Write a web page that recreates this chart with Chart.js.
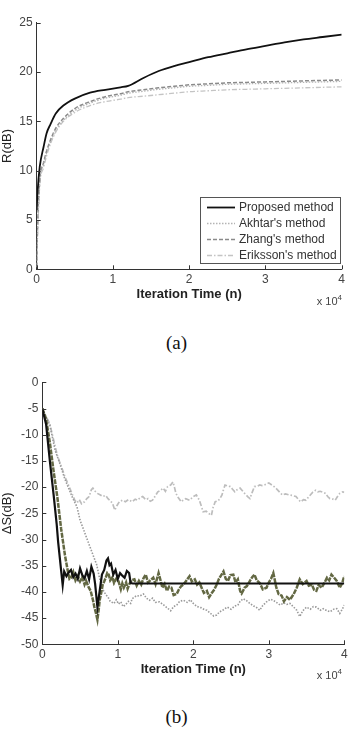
<!DOCTYPE html>
<html>
<head>
<meta charset="utf-8">
<script src="https://cdn.jsdelivr.net/npm/chart.js@4.4.1/dist/chart.umd.min.js"></script>
<style>
  html, body { margin: 0; padding: 0; background: #fff; }
  body { width: 353px; height: 732px; position: relative; overflow: hidden; font-family: "Liberation Sans", Arial, sans-serif; }
  canvas { position: absolute; left: 0; }
  .exp { position: absolute; right: 11px; font-size: 11px; line-height: 12px; color: #444; }
  .exp sup { font-size: 8px; vertical-align: 5px; line-height: 0; }
  .cap { position: absolute; width: 353px; left: 0; text-align: center; font-family: "Liberation Serif", "Times New Roman", serif; font-size: 19px; line-height: 20px; color: #111; }
</style>
</head>
<body>
<canvas id="chartA" width="353" height="320" style="top:0px"></canvas>
<div class="exp" style="top:295px">x 10<sup>4</sup></div>
<div class="cap" style="top:333px">(a)</div>
<canvas id="chartB" width="353" height="350" style="top:340px"></canvas>
<div class="exp" style="top:669px">x 10<sup>4</sup></div>
<div class="cap" style="top:707px">(b)</div>
<script>
// ---------- DATA (x in units of 10^4 iterations) ----------
const seriesNames = ["Proposed method", "Akhtar's method", "Zhang's method", "Eriksson's method"];

// Chart (a): R(dB)
const iterA = [0, 0.01, 0.04, 0.09, 0.13, 0.18, 0.25, 0.35, 0.5, 0.7, 0.9, 1.1, 1.2, 1.4, 1.6, 1.8, 2.0, 2.25, 2.5, 2.75, 3.0, 3.25, 3.5, 3.75, 4.0];
const proposedA = [6.0, 7.7, 10.4, 12.4, 13.8, 14.7, 15.8, 16.6, 17.3, 17.9, 18.2, 18.45, 18.6, 19.4, 20.1, 20.6, 21.0, 21.5, 21.9, 22.3, 22.65, 23.0, 23.3, 23.55, 23.8];
const akhtarA   = [0.2, 3.5, 8.8, 10.6, 11.8, 12.9, 14.1, 15.1, 16.1, 16.85, 17.35, 17.65, 17.85, 18.05, 18.25, 18.4, 18.55, 18.65, 18.75, 18.8, 18.85, 18.9, 18.95, 19.0, 19.05];
const zhangA    = [0.3, 4.0, 9.0, 10.8, 12.0, 13.1, 14.3, 15.3, 16.3, 17.0, 17.5, 17.8, 18.0, 18.2, 18.4, 18.55, 18.7, 18.8, 18.9, 18.95, 19.0, 19.05, 19.1, 19.15, 19.2];
const erikssonA = [0.2, 3.0, 8.5, 10.3, 11.5, 12.7, 13.9, 15.0, 15.9, 16.6, 17.0, 17.25, 17.4, 17.55, 17.7, 17.85, 18.0, 18.1, 18.2, 18.25, 18.3, 18.35, 18.4, 18.45, 18.5];
const ticksA_y = [0, 5, 10, 15, 20, 25];

// Chart (b): ΔS(dB)
const iterProposedB = [0, 0.05, 0.1, 0.15, 0.19, 0.21, 0.25, 0.27, 0.29, 0.32,
  0.35, 0.38, 0.41, 0.44, 0.47, 0.5, 0.53, 0.56, 0.59, 0.62,
  0.65, 0.68, 0.7, 0.73, 0.76, 0.79, 0.82, 0.85, 0.87, 0.89,
  0.91, 0.94, 0.97, 1.0, 1.03, 1.06, 1.09, 1.12, 1.15, 1.17,
  1.2, 4.0];
const proposedB = [-5, -8, -15, -21.5, -27, -30.5, -36, -38.7, -36.1, -37,
  -36.3, -35.8, -37.2, -36.5, -37.5, -35.5, -36.8, -37.4, -36, -37.6,
  -35.2, -36.5, -38.5, -42.9, -39.8, -36.7, -35.8, -34, -33.6, -34.9,
  -34.6, -36.7, -35.8, -37.5, -36.4, -36.9, -37.3, -36, -36.4, -38.3,
  -38.4, -38.4];

const iterAkhtarB = [0, 0.05, 0.1, 0.15, 0.2, 0.25, 0.3, 0.34, 0.36, 0.38,
  0.41, 0.44, 0.47, 0.5, 0.53, 0.56, 0.58, 0.61, 0.64, 0.67,
  0.69, 0.71, 0.73, 0.75, 0.76, 0.78, 0.8, 0.82, 0.84, 0.86,
  0.88, 0.9, 0.93, 0.95, 0.98, 1.01, 1.04, 1.06, 1.08, 1.11,
  1.13, 1.15, 1.18, 1.22, 1.25, 1.28, 1.31, 1.34, 1.37, 1.4,
  1.43, 1.47, 1.5, 1.54, 1.57, 1.59, 1.62, 1.65, 1.68, 1.71,
  1.74, 1.78, 1.81, 1.84, 1.87, 1.9, 1.93, 1.95, 1.98, 2.02,
  2.05, 2.08, 2.11, 2.14, 2.18, 2.21, 2.25, 2.28, 2.31, 2.34,
  2.37, 2.4, 2.43, 2.46, 2.49, 2.53, 2.56, 2.59, 2.62, 2.64,
  2.68, 2.71, 2.75, 2.78, 2.81, 2.84, 2.88, 2.92, 2.97, 3.0,
  3.03, 3.06, 3.08, 3.1, 3.13, 3.17, 3.2, 3.24, 3.28, 3.33,
  3.37, 3.41, 3.45, 3.5, 3.53, 3.57, 3.6, 3.63, 3.66, 3.7,
  3.74, 3.77, 3.8, 3.83, 3.86, 3.9, 3.94, 3.97, 4.0];
const akhtarB = [-5, -7, -11.5, -17, -22, -28, -33, -36.2, -37.5, -37.3,
  -36.2, -37.8, -37, -38, -37.2, -38.6, -37.9, -39, -39.8, -41.5,
  -42.9, -44, -45.3, -43, -41.6, -40.2, -38.6, -38, -37.3, -36.4,
  -36.7, -37.8, -37.2, -38.3, -37.5, -38, -39.5, -38.4, -39.2, -38.2,
  -39.4, -38.6, -37.8, -37.6, -38.8, -37.9, -38.6, -37.4, -36.7, -38.2,
  -37.8, -37.3, -38.5, -36.4, -38, -39.2, -38.5, -39.8, -39, -39.2,
  -40.6, -40.4, -39.5, -38.9, -38.6, -38, -37.4, -37, -38, -37.6,
  -38.6, -38.2, -39.2, -40.2, -39.8, -41, -40.1, -39.5, -38.6, -37.5,
  -36.8, -36.1, -37.5, -37.9, -36.8, -36.7, -38.2, -37.6, -39.8, -40.3,
  -39.2, -38.9, -37.9, -37.2, -36.7, -37.8, -38.3, -39.5, -39.2, -38.2,
  -37.5, -36.4, -37.8, -39.2, -40.4, -40.7, -41.8, -41, -41.5, -40.4,
  -39.2, -37.6, -38.5, -37.9, -38.8, -38.6, -39.6, -39.8, -38.7, -39.2,
  -38.2, -37.3, -37.8, -36.7, -37.2, -37.9, -39.2, -38.4, -37];

const iterZhangB = [0, 0.1, 0.17, 0.22, 0.3, 0.4, 0.46, 0.5, 0.59, 0.66,
  0.72, 0.76, 0.8, 0.84, 0.87, 0.9, 0.95, 0.98, 1.01, 1.04,
  1.07, 1.1, 1.14, 1.17, 1.19, 1.22, 1.25, 1.29, 1.34, 1.38,
  1.42, 1.46, 1.5, 1.55, 1.6, 1.65, 1.7, 1.74, 1.78, 1.82,
  1.87, 1.92, 1.96, 2.0, 2.05, 2.1, 2.15, 2.18, 2.22, 2.27,
  2.31, 2.35, 2.4, 2.45, 2.5, 2.55, 2.59, 2.62, 2.66, 2.7,
  2.75, 2.8, 2.84, 2.88, 2.92, 2.97, 3.02, 3.06, 3.1, 3.15,
  3.2, 3.24, 3.28, 3.33, 3.37, 3.41, 3.45, 3.5, 3.55, 3.59,
  3.63, 3.68, 3.72, 3.77, 3.81, 3.86, 3.9, 3.94, 3.97, 4.0];
const zhangB = [-5, -8.2, -13, -15, -18.5, -22, -23.8, -26.3, -29.8, -32.5,
  -34.8, -37.5, -39.5, -40.5, -41, -41.8, -42.2, -41.5, -42.3, -41.9,
  -42.8, -42.5, -41.8, -42.2, -41.3, -41, -40.7, -40.8, -40.4, -41.2,
  -41.6, -41.2, -42, -41.9, -42.4, -43, -43.6, -42.8, -42.5, -41.8,
  -41.6, -42, -41.5, -42.2, -42.8, -43, -43.4, -43.5, -44, -44.6,
  -44.4, -43.8, -43.4, -42.9, -43.3, -42.7, -42.5, -41.8, -41.3, -41.6,
  -42.2, -42.7, -43, -43.5, -42.6, -41.9, -41.4, -41.6, -42, -42.5,
  -42.1, -42.4, -42.2, -42.9, -43.5, -44.7, -43.6, -42.9, -43.3, -42.8,
  -42.9, -43.5, -43.2, -43.6, -43.8, -43.3, -43.2, -44.1, -43.4, -42.5];

const iterErikssonB = [0, 0.1, 0.2, 0.3, 0.43, 0.46, 0.49, 0.52, 0.56, 0.59,
  0.62, 0.65, 0.67, 0.7, 0.73, 0.77, 0.8, 0.84, 0.87, 0.9,
  0.93, 0.96, 0.99, 1.02, 1.06, 1.1, 1.14, 1.19, 1.23, 1.26,
  1.3, 1.33, 1.37, 1.4, 1.43, 1.46, 1.5, 1.53, 1.57, 1.6,
  1.63, 1.66, 1.7, 1.73, 1.75, 1.77, 1.8, 1.84, 1.87, 1.9,
  1.95, 2.0, 2.04, 2.08, 2.11, 2.13, 2.17, 2.2, 2.24, 2.26,
  2.29, 2.33, 2.36, 2.38, 2.4, 2.42, 2.46, 2.49, 2.52, 2.55,
  2.58, 2.62, 2.65, 2.68, 2.72, 2.75, 2.78, 2.81, 2.85, 2.88,
  2.91, 2.94, 2.97, 3.0, 3.04, 3.07, 3.1, 3.14, 3.18, 3.22,
  3.27, 3.31, 3.36, 3.39, 3.42, 3.46, 3.49, 3.52, 3.55, 3.58,
  3.62, 3.65, 3.68, 3.72, 3.75, 3.78, 3.81, 3.85, 3.88, 3.91,
  3.94, 3.98, 4.0];
const erikssonB = [-5, -8, -14, -18, -22.5, -23, -22.4, -23.2, -22.8, -22.2,
  -21.8, -20.5, -20.2, -20.8, -21.2, -21.5, -21.8, -21.6, -22.2, -22.6,
  -23.1, -24.4, -23.5, -22.8, -22.5, -22.8, -22.4, -22.8, -22.3, -22.5,
  -22, -21.8, -22.4, -22.2, -22.7, -22.5, -21.6, -20.9, -20.6, -20.2,
  -20.8, -19.9, -19.6, -19, -20, -21.2, -22, -22.8, -22.4, -22.2,
  -22.5, -21.8, -21.5, -22.5, -23.8, -24.7, -24.6, -25, -25.4, -24,
  -22.8, -22.6, -22, -21.5, -20.5, -19.6, -19.8, -19.9, -20.4, -20.9,
  -20.5, -20.2, -20.7, -21.2, -21.8, -22.2, -21, -19.9, -19.8, -19.6,
  -19.7, -19.6, -19.4, -19.2, -19.6, -19.9, -20.3, -20.9, -21.5, -21.3,
  -21.5, -21.6, -21.8, -22.3, -22.8, -22.4, -22.5, -22, -21.5, -21,
  -20.6, -20.9, -20.8, -21, -21.2, -21.8, -22.2, -22.3, -22.5, -21.8,
  -21.2, -20.9, -21];
const ticksB_y = [-50, -45, -40, -35, -30, -25, -20, -15, -10, -5, 0];
const ticksX = [0, 1, 2, 3, 4];

// ---------- helpers ----------
const zip = (xs, ys) => xs.slice(0, Math.min(xs.length, ys.length)).map((x, i) => ({ x, y: ys[i] }));
const FONT = '"Liberation Sans", Arial, sans-serif';

const axisPlugin = {
  id: 'matlabAxes',
  afterDraw(chart, args, opts) {
    const { ctx, chartArea: a, scales: { x, y } } = chart;
    ctx.save();
    ctx.strokeStyle = '#333';
    ctx.lineWidth = 1;
    ctx.setLineDash([]);
    ctx.beginPath();
    x.ticks.forEach(t => {
      const px = Math.round(x.getPixelForValue(t.value)) + 0.5;
      ctx.moveTo(px, a.bottom); ctx.lineTo(px, a.bottom - 4);
    });
    y.ticks.forEach(t => {
      const py = Math.round(y.getPixelForValue(t.value)) + 0.5;
      ctx.moveTo(a.left, py); ctx.lineTo(a.left + 4, py);
    });
    ctx.stroke();
    const b = opts.box;
    ctx.fillStyle = '#fff';
    ctx.fillRect(b.l, b.t, b.r - b.l, b.b - b.t);
    ctx.strokeStyle = '#555';
    ctx.strokeRect(b.l + 0.5, b.t + 0.5, b.r - b.l, b.b - b.t);
    chart.data.datasets.forEach((ds, i) => {
      const yy = Math.round(b.t + b.first + i * b.step) + 0.5;
      ctx.setLineDash(ds.borderDash || []);
      ctx.strokeStyle = ds.borderColor;
      ctx.lineWidth = Math.min(ds.borderWidth, 2);
      ctx.beginPath(); ctx.moveTo(b.l + 7, yy); ctx.lineTo(b.l + 35, yy); ctx.stroke();
      ctx.setLineDash([]);
      ctx.fillStyle = '#333';
      ctx.font = '12px ' + FONT;
      ctx.textBaseline = 'middle';
      ctx.textAlign = 'left';
      ctx.fillText(ds.label, b.l + 39, yy);
    });
    ctx.restore();
  }
};

function makeChart(id, datasets, cfg) {
  return new Chart(document.getElementById(id), {
    type: 'line',
    data: { datasets },
    plugins: [axisPlugin],
    options: {
      responsive: false,
      animation: false,
      devicePixelRatio: 1,
      layout: { padding: { top: cfg.padTop, right: cfg.padRight, left: 0, bottom: 0 } },
      elements: { point: { radius: 0 }, line: { tension: 0 } },
      plugins: { legend: { display: false }, tooltip: { enabled: false }, matlabAxes: { box: cfg.box } },
      scales: {
        x: {
          type: 'linear', min: 0, max: 4,
          afterBuildTicks: s => { s.ticks = ticksX.map(v => ({ value: v })); },
          afterFit: s => { s.height = cfg.xHeight; },
          grid: { display: false, drawTicks: false },
          border: { display: true, color: '#333', width: 1 },
          ticks: { padding: 3, color: '#444', font: { family: FONT, size: 12 }, maxRotation: 0 },
          title: { display: true, text: 'Iteration Time (n)', color: '#222', font: { family: FONT, size: 13, weight: 'bold' }, padding: { top: 0, bottom: cfg.xTitlePad } }
        },
        y: {
          type: 'linear', min: cfg.yMin, max: cfg.yMax,
          afterBuildTicks: s => { s.ticks = cfg.yTicks.map(v => ({ value: v })); },
          afterFit: s => { s.width = cfg.yWidth; },
          grid: { display: false, drawTicks: false },
          border: { display: true, color: '#333', width: 1 },
          ticks: { padding: 4, color: '#444', font: { family: FONT, size: 12 } },
          title: { display: true, text: cfg.yTitle, color: '#222', font: { family: FONT, size: 13 }, padding: { top: 0, bottom: 0 } }
        }
      }
    }
  });
}

// ---------- chart (a) ----------
makeChart('chartA', [
  { label: seriesNames[0], data: zip(iterA, proposedA), borderColor: '#111', borderWidth: 1.8, borderDash: [], cubicInterpolationMode: 'monotone' },
  { label: seriesNames[1], data: zip(iterA, akhtarA), borderColor: '#b4b4b4', borderWidth: 1.3, borderDash: [1.5, 1.5], cubicInterpolationMode: 'monotone' },
  { label: seriesNames[2], data: zip(iterA, zhangA), borderColor: '#8a8a8a', borderWidth: 1.5, borderDash: [4, 2], cubicInterpolationMode: 'monotone' },
  { label: seriesNames[3], data: zip(iterA, erikssonA), borderColor: '#c4c4c4', borderWidth: 1.3, borderDash: [5, 2, 1.5, 2], cubicInterpolationMode: 'monotone' }
], {
  padTop: 22.7, padRight: 11.3, xHeight: 50.7, yWidth: 36.7, xTitlePad: 17.3,
  yMin: 0, yMax: 25, yTicks: ticksA_y, yTitle: 'R(dB)',
  box: { l: 200, t: 197, r: 340, b: 263, first: 10, step: 16 }
});

// ---------- chart (b) ----------
makeChart('chartB', [
  { label: seriesNames[0], data: zip(iterProposedB, proposedB), borderColor: '#111', borderWidth: 2.2, borderDash: [] },
  { label: seriesNames[1], data: zip(iterAkhtarB, akhtarB), borderColor: '#636843', borderWidth: 2.5, borderDash: [5, 1] },
  { label: seriesNames[2], data: zip(iterZhangB, zhangB), borderColor: '#9a9a9a', borderWidth: 1.6, borderDash: [1.5, 1.5] },
  { label: seriesNames[3], data: zip(iterErikssonB, erikssonB), borderColor: '#bdbdbd', borderWidth: 1.7, borderDash: [5, 2, 1.5, 2] }
], {
  padTop: 42.3, padRight: 8.7, xHeight: 45.7, yWidth: 42.3, xTitlePad: 12.3,
  yMin: -50, yMax: 0, yTicks: ticksB_y, yTitle: 'ΔS(dB)',
  box: { l: 197, t: 384, r: 342, b: 452, first: 10, step: 16.3 }
});
</script>
</body>
</html>
